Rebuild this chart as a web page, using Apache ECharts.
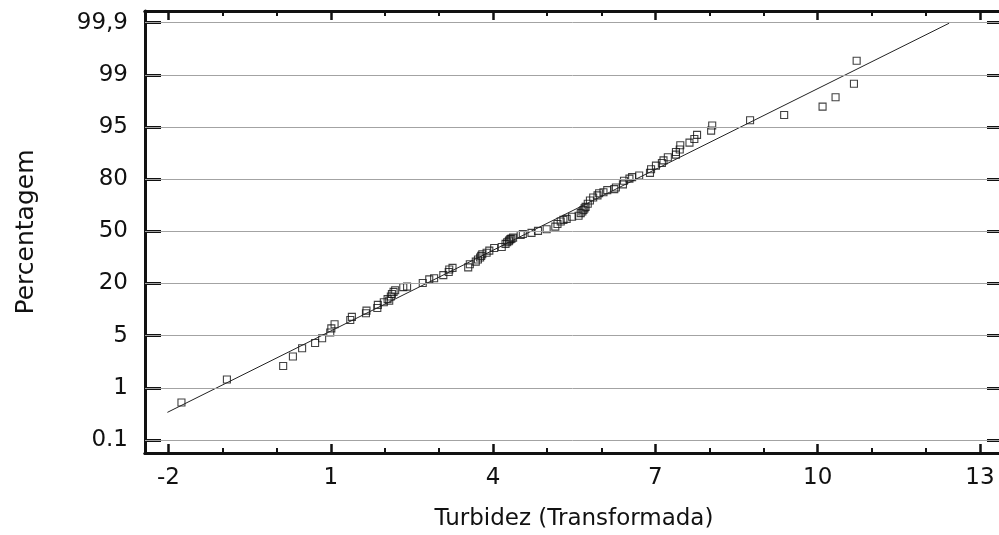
<!DOCTYPE html>
<html>
<head>
<meta charset="utf-8">
<script src="https://cdn.jsdelivr.net/npm/echarts@6/dist/echarts.min.js"></script>
<style>
  html, body { margin: 0; padding: 0; background: #fff; }
  #chart { width: 999px; height: 535px; }
</style>
</head>
<body>
<div id="chart"></div>
<script>
// probability axis: labels sit evenly spaced at positions 0..8
const yTickLabels = ['0.1', '1', '5', '20', '50', '80', '95', '99', '99,9'];
const yTickPos = [0, 1, 2, 3, 4, 5, 6, 7, 8];
const xMajorTicks = [-2, 1, 4, 7, 10, 13];
const xMinorTicks = [-1, 0, 2, 3, 5, 6, 8, 9, 11, 12];

// observations (transformed turbidity, position on probability axis)
const obsX = [-1.76, -0.92, 0.12, 0.30, 0.47, 0.71, 0.84, 0.99, 1.01, 1.07,
  1.36, 1.39, 1.65, 1.66, 1.86, 1.87, 1.98, 2.05, 2.08, 2.11,
  2.13, 2.16, 2.19, 2.34, 2.41, 2.70, 2.82, 2.91, 3.08, 3.18,
  3.19, 3.25, 3.54, 3.57, 3.68, 3.72, 3.76, 3.78, 3.80, 3.88,
  3.93, 4.02, 4.16, 4.23, 4.26, 4.29, 4.30, 4.32, 4.34, 4.37,
  4.51, 4.55, 4.71, 4.83, 4.99, 5.15, 5.19, 5.25, 5.30, 5.36,
  5.46, 5.58, 5.62, 5.65, 5.67, 5.69, 5.71, 5.75, 5.79, 5.85,
  5.93, 5.96, 6.04, 6.11, 6.24, 6.27, 6.40, 6.42, 6.52, 6.57,
  6.70, 6.90, 6.92, 7.01, 7.12, 7.15, 7.23, 7.38, 7.38, 7.45,
  7.46, 7.63, 7.72, 7.77, 8.03, 8.05, 8.75, 9.38, 10.09, 10.33,
  10.67, 10.72];
const obsY = [0.72, 1.16, 1.42, 1.60, 1.76, 1.86, 1.95, 2.06, 2.14, 2.22,
  2.30, 2.36, 2.43, 2.48, 2.53, 2.59, 2.64, 2.70, 2.67, 2.75,
  2.80, 2.84, 2.87, 2.93, 2.94, 3.01, 3.08, 3.10, 3.16, 3.22,
  3.27, 3.30, 3.31, 3.37, 3.42, 3.46, 3.50, 3.53, 3.56, 3.59,
  3.63, 3.68, 3.70, 3.76, 3.79, 3.81, 3.83, 3.85, 3.86, 3.88,
  3.93, 3.95, 3.97, 4.01, 4.04, 4.09, 4.14, 4.19, 4.22, 4.24,
  4.28, 4.30, 4.35, 4.38, 4.41, 4.44, 4.47, 4.53, 4.59, 4.65,
  4.69, 4.73, 4.75, 4.79, 4.81, 4.84, 4.90, 4.97, 5.01, 5.04,
  5.07, 5.12, 5.19, 5.26, 5.31, 5.36, 5.42, 5.47, 5.52, 5.57,
  5.65, 5.70, 5.77, 5.85, 5.93, 6.03, 6.13, 6.23, 6.39, 6.57,
  6.83, 7.27];

// fitted normal line
const fitX = [-2.02, 12.43];
const fitY = [0.53, 7.99];

const font = 'DejaVu Sans';
const black = '#111';

const chart = echarts.init(document.getElementById('chart'));

const frameX = (position, ticks, len, width, extra) => Object.assign({
  type: 'value',
  position: position,
  min: -2.434,
  max: 13.425,
  axisLine: { show: true, onZero: false, lineStyle: { color: black, width: 3 } },
  axisTick: { show: true, inside: true, customValues: ticks, length: len, lineStyle: { color: black, width: width } },
  axisLabel: { show: false },
  splitLine: { show: false }
}, extra || {});

const frameY = (position, extra) => Object.assign({
  type: 'value',
  position: position,
  min: -0.249,
  max: 8.224,
  axisLine: { show: true, onZero: false, lineStyle: { color: black, width: 3 } },
  axisTick: { show: true, inside: true, customValues: yTickPos, length: 16, lineStyle: { color: black, width: 3 } },
  axisLabel: { show: false },
  splitLine: { show: false }
}, extra || {});

const option = {
  animation: false,
  backgroundColor: '#fff',
  grid: { left: 145, top: 11, width: 858, height: 442, outerBoundsMode: 'none', containLabel: false },
  xAxis: [
    frameX('bottom', xMajorTicks, 9, 2.5, {
      name: 'Turbidez (Transformada)',
      nameLocation: 'middle',
      nameGap: 55,
      nameTextStyle: { fontFamily: font, fontSize: 23, color: black },
      axisLabel: { show: true, customValues: xMajorTicks, margin: 14, fontFamily: font, fontSize: 23, color: black }
    }),
    frameX('bottom', xMinorTicks, 5, 2),
    frameX('top', xMajorTicks, 9, 2.5),
    frameX('top', xMinorTicks, 5, 2)
  ],
  yAxis: [
    frameY('left', {
      name: 'Percentagem',
      nameLocation: 'middle',
      nameRotate: 90,
      nameGap: 106,
      nameTextStyle: { fontFamily: font, fontSize: 25, color: black },
      axisLabel: {
        show: true,
        customValues: yTickPos,
        margin: 17,
        fontFamily: font,
        fontSize: 23,
        color: black,
        formatter: v => yTickLabels[Math.round(v)]
      }
    }),
    frameY('right')
  ],
  series: [
    {
      name: 'ajuste',
      type: 'line',
      data: fitX.map((x, i) => [x, fitY[i]]),
      showSymbol: false,
      symbol: 'none',
      lineStyle: { color: '#222', width: 1 },
      silent: true,
      markLine: {
        silent: true,
        symbol: 'none',
        label: { show: false },
        lineStyle: { color: '#a3a3a3', width: 1, type: 'solid' },
        data: yTickPos.map(v => ({ yAxis: v }))
      }
    },
    {
      name: 'observados',
      type: 'scatter',
      data: obsX.map((x, i) => [x, obsY[i]]),
      symbol: 'rect',
      symbolSize: 7,
      itemStyle: { color: 'rgba(255,255,255,0)', borderColor: black, borderWidth: 1.1 }
    }
  ]
};

chart.setOption(option);
</script>
</body>
</html>
